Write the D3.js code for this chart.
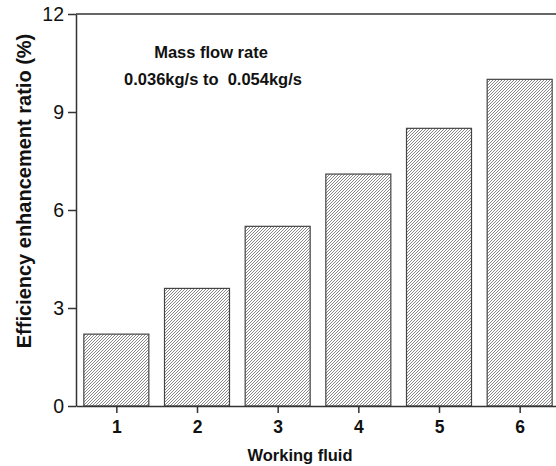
<!DOCTYPE html>
<html>
<head>
<meta charset="utf-8">
<script src="https://cdn.jsdelivr.net/npm/d3@7"></script>
<style>
  body { margin: 0; background: #fff; }
  svg { display: block; font-family: "Liberation Sans", Arial, sans-serif; }
</style>
</head>
<body>
<div id="chart"></div>
<script>
// chart data
var fluids = [1, 2, 3, 4, 5, 6];
var ratios = [2.2, 3.6, 5.5, 7.1, 8.5, 10.0];
var yTicks = [0, 3, 6, 9, 12];
var noteLines = ["Mass flow rate", "0.036kg/s to  0.054kg/s"];

var width = 556, height = 466;
var plotL = 76, plotT = 14, plotB = 406, plotR = 560;

var svg = d3.select("#chart").append("svg")
	.attr("width", width)
	.attr("height", height);

// hatch pattern, thin "/" lines
var defs = svg.append("defs");
defs.append("pattern")
	.attr("id", "hatch")
	.attr("patternUnits", "userSpaceOnUse")
	.attr("width", 3).attr("height", 3)
	.append("path")
		.attr("d", "M-1,1 l2,-2 M0,3 l3,-3 M2,4 l2,-2")
		.style("stroke", "#6a6a6a")
		.style("stroke-width", 0.8);

var x = d3.scaleLinear().domain([0.5, 6.5]).range([plotL, plotR]);
var y = d3.scaleLinear().domain([0, 12]).range([plotB, plotT]);
var barW = 65;

// bars
svg.selectAll(".bar")
	.data(fluids)
	.enter()
	.append("rect")
		.attr("class", "bar")
		.attr("x", function(d) { return x(d) - barW / 2; })
		.attr("y", function(d, i) { return y(ratios[i]); })
		.attr("width", barW)
		.attr("height", function(d, i) { return y(0) - y(ratios[i]); })
		.style("fill", "url(#hatch)")
		.style("stroke", "#444")
		.style("stroke-width", 1.2);

// frame top line
svg.append("line")
	.attr("x1", plotL).attr("x2", plotR)
	.attr("y1", plotT).attr("y2", plotT)
	.style("stroke", "#333").style("stroke-width", 1.5);

// y axis
var yAxis = svg.append("g")
	.attr("transform", "translate(" + plotL + ",0)")
	.call(d3.axisLeft(y).tickValues(yTicks).tickSize(8).tickSizeOuter(0).tickPadding(4).tickFormat(d3.format("d")));
yAxis.select(".domain").style("stroke", "#333").style("stroke-width", 1.5);
yAxis.selectAll(".tick line").style("stroke", "#333").style("stroke-width", 1.5);
yAxis.selectAll("text")
	.style("font-size", "19.5px")
	.style("fill", "#111");

// x axis
var xAxis = svg.append("g")
	.attr("transform", "translate(0," + plotB + ")")
	.call(d3.axisBottom(x).tickValues(fluids).tickSize(7).tickSizeOuter(0).tickPadding(8).tickFormat(d3.format("d")));
xAxis.select(".domain").style("stroke", "#333").style("stroke-width", 1.5);
xAxis.selectAll(".tick line").style("stroke", "#333").style("stroke-width", 1.5);
xAxis.selectAll("text")
	.style("font-size", "17.5px")
	.style("font-weight", 700)
	.style("fill", "#111");

// axis titles
svg.append("text")
	.attr("transform", "translate(31,191) rotate(-90)")
	.style("text-anchor", "middle")
	.style("font-size", "20px")
	.style("font-weight", 700)
	.style("fill", "#111")
	.text("Efficiency enhancement ratio (%)");

svg.append("text")
	.attr("x", 300).attr("y", 461)
	.style("text-anchor", "middle")
	.style("font-size", "16.5px")
	.style("font-weight", 700)
	.style("fill", "#111")
	.text("Working fluid");

// note
svg.selectAll(".note")
	.data(noteLines)
	.enter()
	.append("text")
		.attr("class", "note")
		.attr("x", function(d, i) { return i == 0 ? 211 : 213; })
		.attr("y", function(d, i) { return 58 + i * 27; })
		.style("text-anchor", "middle")
		.style("font-size", "16.5px")
		.style("font-weight", 700)
		.style("fill", "#111")
		.style("white-space", "pre")
		.text(function(d) { return d; });
</script>
</body>
</html>
